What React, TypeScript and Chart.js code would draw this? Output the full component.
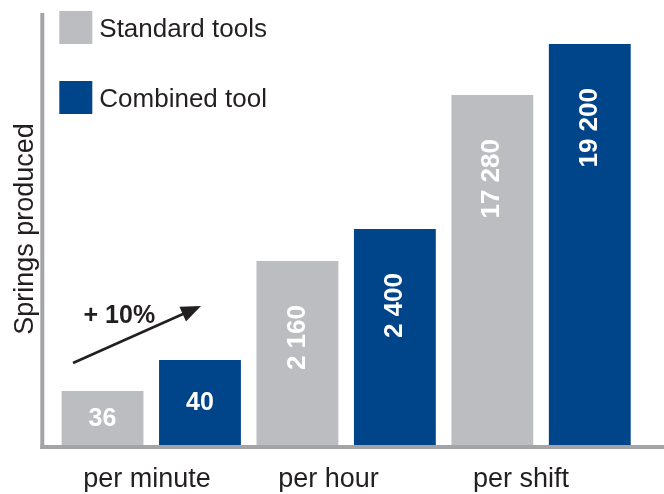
import React, { useEffect, useRef } from "react";
import { Chart, registerables } from "chart.js";

Chart.register(...registerables);

// ---- data ----
const categories = ["per minute", "per hour", "per shift"];
const seriesNames = ["Standard tools", "Combined tool"];
// printed values on the bars
const standardValues = ["36", "2 160", "17 280"];
const combinedValues = ["40", "2 400", "19 200"];
// visual (schematic) bar heights as drawn in the picture
const standardHeights = [54, 184, 350];
const combinedHeights = [85, 216, 401];
const yAxisTitle = "Springs produced";
const annotationText = "+ 10%";

const GRAY = "#bcbdc0";
const BLUE = "#00448a";
const AXIS = "#a3a4a8";
const TEXT = "#231f20";
const FONT = "'Liberation Sans', Arial, Helvetica, sans-serif";

const overlayPlugin = {
  id: "overlay",
  afterDatasetsDraw(chart: any) {
    const ctx = chart.ctx;
    const area = chart.chartArea;
    ctx.save();
    // axis lines
    ctx.fillStyle = AXIS;
    ctx.fillRect(area.left - 13.5, area.top, 4, area.bottom - area.top + 4);
    ctx.fillRect(area.left - 13.5, area.bottom, chart.width - (area.left - 13.5), 4);

    // value labels
    const labelSets = [standardValues, combinedValues];
    chart.data.datasets.forEach((ds: any, di: number) => {
      const meta = chart.getDatasetMeta(di);
      meta.data.forEach((bar: any, i: number) => {
        const txt = labelSets[di][i];
        const h = bar.base - bar.y;
        ctx.fillStyle = "#ffffff";
        if (h > 120) {
          ctx.font = `bold 26px ${FONT}`;
          ctx.save();
          ctx.translate(bar.x, bar.y + 44);
          ctx.rotate(-Math.PI / 2);
          ctx.textAlign = "right";
          ctx.textBaseline = "middle";
          ctx.fillText(txt, 0, 0);
          ctx.restore();
        } else {
          ctx.font = `bold 25px ${FONT}`;
          ctx.textAlign = "center";
          ctx.textBaseline = "middle";
          ctx.fillText(txt, bar.x, (bar.y + bar.base) / 2 + 1);
        }
      });
    });

    // legend
    const colors = [GRAY, BLUE];
    chart.data.datasets.forEach((ds: any, di: number) => {
      const y = area.top - 2 + di * 70;
      const x = area.left + 5.5;
      ctx.fillStyle = colors[di];
      ctx.fillRect(x, y, 33, 33);
      ctx.fillStyle = TEXT;
      ctx.font = `26px ${FONT}`;
      ctx.textAlign = "left";
      ctx.textBaseline = "middle";
      ctx.fillText(ds.label, x + 40, y + 18.5);
    });

    // +10% arrow between first two bars
    const b0 = chart.getDatasetMeta(0).data[0];
    const b1 = chart.getDatasetMeta(1).data[0];
    const sx = b0.x - 29.5;
    const sy = b0.y - 28;
    const tx = b1.x + 1;
    const ty = b1.y - 54;
    const ang = Math.atan2(ty - sy, tx - sx);
    const headLen = 20;
    const headW = 8;
    ctx.strokeStyle = TEXT;
    ctx.fillStyle = TEXT;
    ctx.lineWidth = 2.5;
    ctx.beginPath();
    ctx.moveTo(sx, sy);
    ctx.lineTo(tx - Math.cos(ang) * headLen * 0.8, ty - Math.sin(ang) * headLen * 0.8);
    ctx.stroke();
    const bx = tx - Math.cos(ang) * headLen;
    const by = ty - Math.sin(ang) * headLen;
    ctx.beginPath();
    ctx.moveTo(tx, ty);
    ctx.lineTo(bx + Math.sin(ang) * headW, by - Math.cos(ang) * headW);
    ctx.lineTo(bx - Math.sin(ang) * headW, by + Math.cos(ang) * headW);
    ctx.closePath();
    ctx.fill();

    ctx.font = `bold 25px ${FONT}`;
    ctx.textAlign = "left";
    ctx.textBaseline = "alphabetic";
    ctx.fillText(annotationText, b0.x - 19, b0.y - 68);
    ctx.restore();
  },
};

export default function App() {
  const ref = useRef<HTMLCanvasElement | null>(null);
  useEffect(() => {
    document.body.style.margin = "0";
    if (!ref.current) return;
    const chart = new Chart(ref.current, {
      type: "bar",
      data: {
        labels: categories,
        datasets: [
          { label: seriesNames[0], data: standardHeights, backgroundColor: GRAY, borderWidth: 0 },
          { label: seriesNames[1], data: combinedHeights, backgroundColor: BLUE, borderWidth: 0 },
        ],
      },
      options: {
        responsive: false,
        animation: false,
        layout: { padding: { left: 0, right: 25.5, top: 13, bottom: 2 } },
        plugins: { legend: { display: false }, tooltip: { enabled: false } },
        datasets: { bar: { categoryPercentage: 1, barPercentage: 0.84 } },
        scales: {
          x: {
            grid: { display: false, drawTicks: false },
            border: { display: false },
            afterFit: (scale: any) => {
              scale.height = 47;
            },
            ticks: {
              color: TEXT,
              font: { family: FONT, size: 27, lineHeight: 1 },
              padding: 21,
              align: "start",
              labelOffset: -68,
              maxRotation: 0,
              autoSkip: false,
            },
          },
          y: {
            min: 0,
            max: 432,
            grid: { display: false, drawTicks: false },
            border: { display: false },
            ticks: { display: false },
            title: {
              display: true,
              text: yAxisTitle,
              color: TEXT,
              font: { family: FONT, size: 27, lineHeight: 1.2 },
              padding: { top: 9, bottom: 12.4 },
            },
          },
        },
      },
      plugins: [overlayPlugin],
    });
    return () => chart.destroy();
  }, []);
  return (
    <div style={{ width: 664, height: 494 }}>
      <canvas ref={ref} width={664} height={494} />
    </div>
  );
}
